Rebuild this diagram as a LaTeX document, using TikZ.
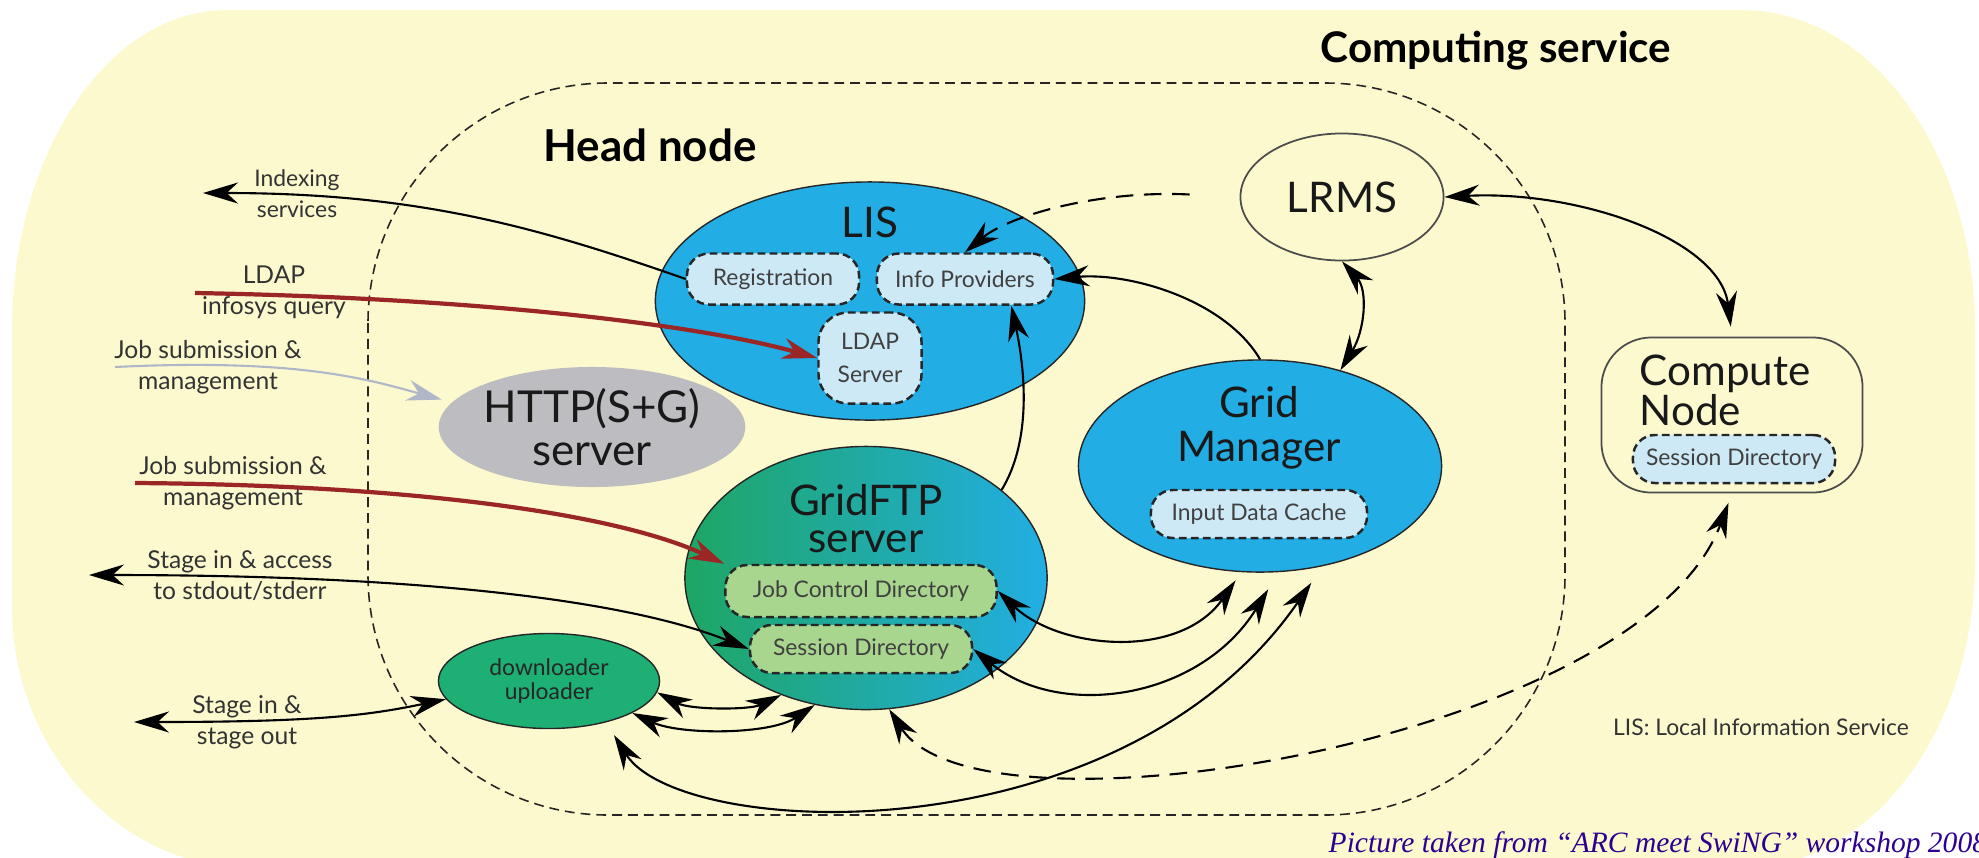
\documentclass[tikz,border=0pt]{standalone}
\usepackage{fontspec}
\setmainfont{Lato}
\newfontfamily\creditfont{Liberation Serif}
\usepackage{xcolor}
\definecolor{serviceyellow}{RGB}{252, 249, 207}
\definecolor{lisblue}{RGB}{34, 174, 228}
\definecolor{boxblue}{RGB}{205, 233, 246}
\definecolor{ftpgreen}{RGB}{30, 166, 100}
\definecolor{dlgreen}{RGB}{29, 175, 115}
\definecolor{boxgreen}{RGB}{168, 214, 142}
\definecolor{httpgray}{RGB}{189, 189, 193}
\definecolor{queryred}{RGB}{155, 38, 38}
\definecolor{jobgray}{RGB}{176, 184, 200}
\definecolor{creditblue}{RGB}{45, 0, 145}
\usetikzlibrary{shapes.geometric,positioning,arrows.meta,calc}

\tikzset{
    >={Stealth[length=3.5mm,width=2.1mm]},
    unitnode/.style={ellipse, draw=black!85, line width=0.4pt, inner sep=0pt},
    titletext/.style={font=\fontsize{12}{12.5}\selectfont, align=center, inner sep=0pt, text=black!90},
    subdir/.style={rectangle, rounded corners=2.2mm, draw=black!85, line width=0.7pt,
        dash pattern=on 2.2pt off 1.2pt, inner sep=0pt, font=\fontsize{6.5}{7}\selectfont, text=black!75},
    sidetext/.style={font=\fontsize{7}{8.8}\selectfont, align=center, inner sep=0pt, text=black!80},
    headline/.style={draw=black!85, line width=0.45pt, dash pattern=on 2.8pt off 1.7pt, rounded corners=24mm},
    flow/.style={draw=black, line width=0.6pt},
    redflow/.style={draw=queryred, line width=1.2pt},
    grayflow/.style={draw=jobgray, line width=0.6pt},
    dashflow/.style={flow, dash pattern=on 5pt off 3pt}
}

\begin{document}
\begin{tikzpicture}[x=0.01cm, y=-0.01cm]
    \useasboundingbox (0,0) rectangle (1979,857);

    % Computing service area
    \fill[serviceyellow] (12,330) .. controls (12,153) and (108,10) .. (227,10) -- (1742,10)
        .. controls (1871,10) and (1975,153) .. (1975,330) -- (1975,560)
        .. controls (1975,731) and (1871,868) .. (1742,868) -- (250,868)
        .. controls (119,868) and (12,749) .. (12,607) -- cycle;
    \node[font=\bfseries\fontsize{12}{14}\selectfont, anchor=base] (cstitle) at (1496,62) {Computing service};

    % Head node boundary
    \draw[headline] (368,83) rectangle (1565,815);
    \node[font=\bfseries\fontsize{12.5}{14}\selectfont, anchor=base] (hntitle) at (650,161) {Head node};

    % LIS
    \node[unitnode, fill=lisblue, minimum width=42.9mm, minimum height=23.8mm] (lis) at (870,301) {};
    \node[titletext] (lisname) at (870,222) {LIS};
    \node[subdir, fill=boxblue, minimum width=17.2mm, minimum height=5.1mm] (reg) at (773,279) {Registration};
    \node[subdir, fill=boxblue, minimum width=17.6mm, minimum height=5.1mm] (info) at (965,279) {Info Providers};
    \node[subdir, fill=boxblue, minimum width=10.3mm, minimum height=9.1mm, rounded corners=3mm,
        align=center, font=\fontsize{6.5}{9.5}\selectfont] (ldapsrv) at (870,358) {LDAP\\Server};

    % HTTP server
    \node[ellipse, fill=httpgray, inner sep=0pt, minimum width=30mm, minimum height=12mm,
        titletext, font=\fontsize{12.5}{12.2}\selectfont] (http) at (592,427) {HTTP(S+G)\\server};

    % GridFTP server
    \node[unitnode, left color=ftpgreen, right color=lisblue, minimum width=36.2mm, minimum height=26.3mm] (ftp) at (866,578) {};
    \node[titletext, font=\fontsize{12}{10.5}\selectfont] (ftpname) at (866,519) {GridFTP\\server};
    \node[subdir, fill=boxgreen, minimum width=27.1mm, minimum height=5.2mm] (jcd) at (861,591) {Job Control Directory};
    \node[subdir, fill=boxgreen, minimum width=22.2mm, minimum height=4.8mm] (ftpsd) at (861,649) {Session Directory};

    % Grid Manager
    \node[unitnode, fill=lisblue, minimum width=36.3mm, minimum height=21.2mm] (gm) at (1260,466) {};
    \node[titletext, font=\fontsize{12}{12.5}\selectfont] (gmname) at (1259,428) {Grid\\Manager};
    \node[subdir, fill=boxblue, minimum width=21.6mm, minimum height=4.8mm] (idc) at (1259,514) {Input Data Cache};

    % LRMS
    \node[ellipse, draw=black!70, line width=0.5pt, minimum width=20.3mm, minimum height=12.7mm, titletext] (lrms) at (1342,197) {LRMS};

    % Compute node
    \node[rectangle, rounded corners=5mm, draw=black!70, line width=0.5pt, minimum width=26.1mm, minimum height=15.5mm] (cn) at (1732,415) {};
    \node[titletext, align=left, anchor=west, font=\fontsize{12}{11.4}\selectfont] (cnname) at (1639,390) {Compute\\Node};
    \node[subdir, fill=boxblue, minimum width=20.2mm, minimum height=4.8mm] (cnsd) at (1734,459) {Session Directory};

    % downloader
    \node[unitnode, fill=dlgreen, minimum width=22.1mm, minimum height=9.5mm, align=center,
        font=\fontsize{6.5}{6.8}\selectfont, text=black!85] (dl) at (549,681) {downloader\\uploader};

    % Outside ends
    \coordinate (idxend) at (203,193);
    \coordinate (ldapstart) at (195,293);
    \coordinate (jobstart) at (115,367);
    \coordinate (jobstart2) at (135,483);
    \coordinate (accend) at (89,575);
    \coordinate (stgend) at (134,722);

    \node[sidetext, font=\fontsize{6.5}{8.8}\selectfont] (idxlabel) at (297,194) {Indexing\\services};
    \node[sidetext] (ldaplabel) at (274,292) {LDAP\\infosys query};
    \node[sidetext] (joblabel) at (208,367) {Job submission \&\\management};
    \node[sidetext] (joblabel2) at (233,483) {Job submission \&\\management};
    \node[sidetext] (acclabel) at (240,576) {Stage in \& access\\to stdout/stderr};
    \node[sidetext] (stglabel) at (247,722) {Stage in \&\\stage out};

    % Connectors
    \draw[flow, ->] (reg.west) .. controls (540,228) and (420,193) .. (idxend);
    \draw[redflow, ->] (ldapstart) .. controls (480,298) and (700,325) .. (ldapsrv.west);
    \draw[grayflow, ->, shorten >=1mm] (jobstart) .. controls (300,358) and (370,380) .. (http.170);
    \draw[redflow, ->] (jobstart2) .. controls (420,485) and (620,515) .. (jcd.north west);
    \draw[flow, <->] (accend) .. controls (450,575) and (640,605) .. (ftpsd.west);
    \draw[flow, <->] (stgend) .. controls (320,722) and (370,715) .. (dl.190);

    \draw[dashflow, ->, shorten <=5mm] (lrms.west) .. controls (1100,190) and (1010,215) .. (info.north);
    \draw[flow, ->] (gm.north) .. controls (1225,300) and (1130,272) .. (info.east);
    \draw[flow, ->] (ftp.33) .. controls (1032,440) and (1025,370) .. (info.-30);
    \draw[flow, <->] (lrms.south) .. controls (1368,290) and (1365,330) .. (gm.50);
    \draw[flow, <->, shorten >=1mm] (lrms.east) .. controls (1580,190) and (1720,240) .. (cn.north);

    \draw[flow, <->, shorten >=1mm] (jcd.east) .. controls (1060,650) and (1180,660) .. (gm.-100);
    \draw[flow, <->, shorten >=2mm] (ftpsd.east) .. controls (1060,720) and (1200,700) .. (gm.-80);
    \draw[flow, <->] (dl.-6) .. controls (690,710) and (750,710) .. (ftp.-126);
    \draw[flow, <->] (dl.-21) .. controls (680,735) and (770,735) .. (ftp.-112);
    \draw[flow, <->, shorten <=1.5mm, shorten >=2mm] (dl.-36) .. controls (680,840) and (1120,860) .. (gm.-58);
    \draw[dashflow, <->, shorten >=1mm] (ftp.-80) .. controls (980,850) and (1640,740) .. (cn.south);

    % Key and credit
    \node[font=\fontsize{6.5}{8}\selectfont, text=black!80] (liskey) at (1761,727) {LIS: Local Information Service};
    \node[font=\creditfont\itshape\fontsize{8.4}{10}\selectfont, text=creditblue, anchor=base west, inner sep=0pt] (credit) at (1328,852) {Picture taken from “ARC meet SwiNG” workshop 2008};
\end{tikzpicture}
\end{document}
